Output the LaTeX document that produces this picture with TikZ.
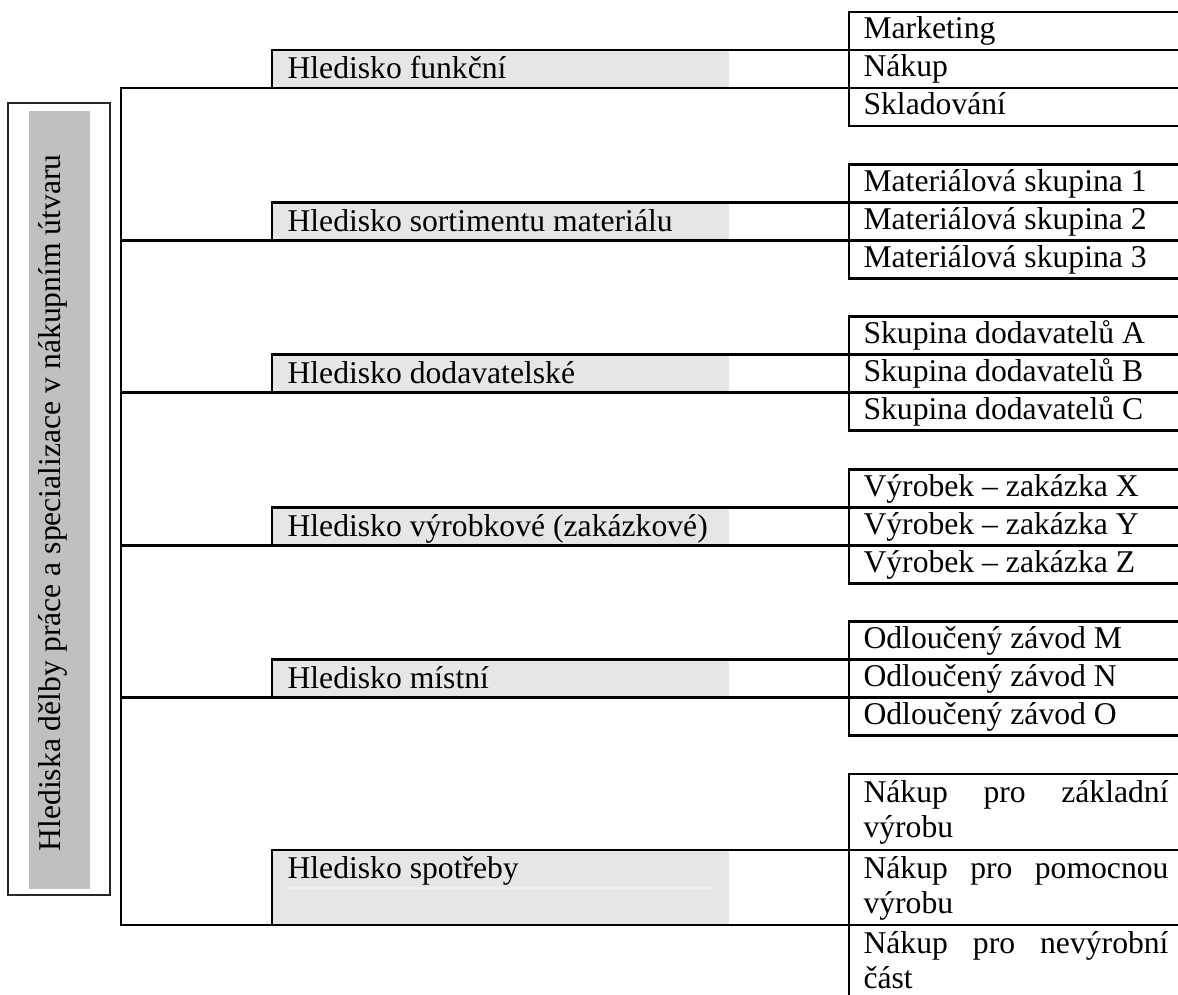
\documentclass[tikz,border=0pt]{standalone}
\usepackage{fontspec}
\setmainfont{Liberation Serif}
\definecolor{boxfill}{HTML}{E6E6E6}
\definecolor{sidefill}{HTML}{C0C0C0}
\definecolor{fillseam}{HTML}{EFEFEF}
% two-line justified cell text: first line spread over the cell width
\newcommand\cellpair[2]{\vtop{\baselineskip=13.64pt\hbox to 115.6pt{#1}\hbox{#2}}}
\begin{document}
\begin{tikzpicture}[x=0.379pt,y=-0.379pt,
  font=\fontsize{12}{14}\selectfont,
  rule/.style={line width=1pt, line cap=rect},
  lbl/.style={anchor=base west, inner sep=0pt}]
\useasboundingbox (0,0) rectangle (1178,995);

% side title box
\draw[line width=0.85pt, draw=black!85] (8,103) rectangle (110,895);
\fill[sidefill] (29,111) rectangle (90,889);
\node[lbl, rotate=90] (title) at (60,852)
  {Hlediska dělby práce a specializace v nákupním útvaru};

% spine joining the aspects
\draw[rule] (121,88) -- (121,925);

% groups with single-line rows (row height 38)
\foreach \t/\name/\a/\b/\c [count=\i] in {
  12/Hledisko funkční/Marketing/Nákup/Skladování,
  164.4/Hledisko sortimentu materiálu/Materiálová skupina 1/Materiálová skupina 2/Materiálová skupina 3,
  316.8/Hledisko dodavatelské/Skupina dodavatelů A/Skupina dodavatelů B/Skupina dodavatelů C,
  469.2/Hledisko výrobkové (zakázkové)/Výrobek – zakázka X/Výrobek – zakázka Y/Výrobek – zakázka Z,
  621.6/Hledisko místní/Odloučený závod M/Odloučený závod N/Odloučený závod O}{
  \fill[boxfill] (272,\t+38) rectangle (729,\t+76);
  \draw[rule] (272,\t+76) -- (272,\t+38) -- (1178,\t+38);
  \draw[rule] (121,\t+76) -- (1178,\t+76);
  \draw[rule] (1178,\t) -- (849,\t) -- (849,\t+114) -- (1178,\t+114);
  \node[lbl] (asp\i) at (287,\t+67) {\name};
  \node[lbl] (it\i a) at (863,\t+27) {\a};
  \node[lbl] (it\i b) at (863,\t+65) {\b};
  \node[lbl] (it\i c) at (863,\t+103) {\c};
}

% last group with two-line rows
\fill[boxfill] (272,850) rectangle (729,925);
\draw[fillseam, line width=0.4pt] (286,888) -- (714,888);
\draw[rule] (272,925) -- (272,850) -- (1178,850);
\draw[rule] (121,925) -- (1178,925);
\draw[rule] (1178,774) -- (849,774) -- (849,1000);
\node[lbl] (asp6) at (287,878) {Hledisko spotřeby};
\node[lbl] (it6a) at (863,802) {\cellpair{Nákup\hfill pro\hfill základní}{výrobu}};
\node[lbl] (it6b) at (863,878) {\cellpair{Nákup\hfill pro\hfill pomocnou}{výrobu}};
\node[lbl] (it6c) at (863,953) {\cellpair{Nákup\hfill pro\hfill nevýrobní}{část}};
\end{tikzpicture}
\end{document}
